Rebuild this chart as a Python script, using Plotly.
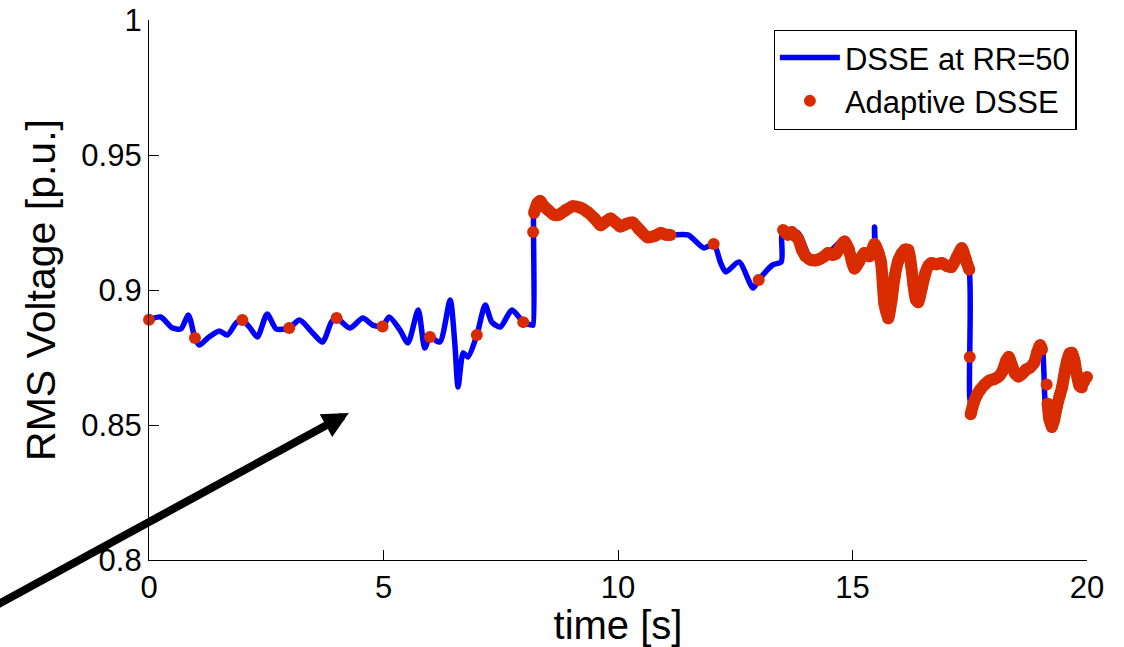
import plotly.graph_objects as go

# ---- data ----
t_blue = [0.00, 0.25, 0.49, 0.68, 0.84, 0.98, 1.07, 1.28, 1.50, 1.67, 1.86, 1.99, 2.14, 2.31, 2.52,
          2.71, 2.99, 3.21, 3.49, 3.70, 3.89, 4.00, 4.28, 4.56, 4.77, 4.98, 5.12, 5.35, 5.52, 5.74,
          5.88, 5.99, 6.20, 6.42, 6.52, 6.59, 6.70, 6.80, 6.99, 7.17, 7.31, 7.49, 7.74, 7.98, 8.17,
          8.19, 8.20, 8.21, 8.34, 8.51, 8.73, 9.03, 9.35, 9.63, 9.84, 10.05, 10.31, 10.63, 10.91,
          11.12, 11.49, 11.83, 12.04, 12.19, 12.30, 12.58, 12.88, 13.00, 13.30, 13.48, 13.49, 13.52,
          13.84, 14.12, 14.30, 14.48, 14.83, 15.04, 15.25, 15.44, 15.47, 15.50, 15.61, 15.72, 15.90,
          16.19, 16.40, 16.68, 17.11, 17.33, 17.49, 17.50, 17.55, 17.82, 18.12, 18.33, 18.54, 18.87,
          19.04, 19.08, 19.12, 19.25, 19.47, 19.68, 19.89, 20.00]
v_blue = [0.8890, 0.8900, 0.8860, 0.8856, 0.8907, 0.8822, 0.8796, 0.8826, 0.8848, 0.8833, 0.8878,
          0.8889, 0.8863, 0.8826, 0.8911, 0.8856, 0.8859, 0.8889, 0.8841, 0.8807, 0.8882, 0.8896,
          0.8859, 0.8896, 0.8870, 0.8865, 0.8900, 0.8852, 0.8804, 0.8926, 0.8785, 0.8826, 0.8807,
          0.8963, 0.8804, 0.8641, 0.8767, 0.8752, 0.8833, 0.8944, 0.8881, 0.8863, 0.8926, 0.8881,
          0.8870, 0.8870, 0.9215, 0.9285, 0.9320, 0.9296, 0.9278, 0.9315, 0.9289, 0.9233, 0.9270,
          0.9233, 0.9252, 0.9193, 0.9211, 0.9204, 0.9204, 0.9156, 0.9170, 0.9100, 0.9067, 0.9104,
          0.9007, 0.9037, 0.9093, 0.9104, 0.9193, 0.9222, 0.9211, 0.9111, 0.9120, 0.9137, 0.9185,
          0.9074, 0.9137, 0.9140, 0.9233, 0.9150, 0.9122, 0.8889, 0.9050, 0.9148, 0.8952, 0.9100,
          0.9085, 0.9159, 0.9067, 0.8600, 0.8560, 0.8656, 0.8678, 0.8752, 0.8678, 0.8715, 0.8789,
          0.8700, 0.8560, 0.8493, 0.8641, 0.8767, 0.8630, 0.8678]

# Adaptive DSSE: sparse estimates
t_red_sparse = [0.0, 0.98, 1.99, 2.99, 4.00, 4.98, 5.99, 6.99, 7.98, 8.19, 12.04, 13.00, 17.50, 19.14]
v_red_sparse = [0.8890, 0.8822, 0.8889, 0.8859, 0.8896, 0.8865, 0.8826, 0.8833, 0.8881, 0.9215,
                0.9170, 0.9037, 0.8752, 0.8650]

# Adaptive DSSE: dense sections
t_red_a = [8.21, 8.28, 8.34, 8.42, 8.51, 8.62, 8.73, 8.88, 9.03, 9.20, 9.35, 9.50, 9.63, 9.75, 9.84,
           9.95, 10.05, 10.18, 10.31, 10.45, 10.63, 10.78, 10.91, 11.02, 11.12]
v_red_a = [0.9285, 0.9320, 0.9330, 0.9310, 0.9296, 0.9280, 0.9278, 0.9295, 0.9310, 0.9305, 0.9289,
           0.9265, 0.9240, 0.9255, 0.9265, 0.9250, 0.9235, 0.9245, 0.9250, 0.9225, 0.9195, 0.9200,
           0.9211, 0.9205, 0.9204]
t_red_b = [13.52, 13.62, 13.70, 13.78, 13.84, 13.92, 14.00, 14.12, 14.22, 14.30, 14.40, 14.48, 14.58,
           14.65, 14.74, 14.83, 14.92, 15.04, 15.14, 15.25, 15.36, 15.47, 15.55, 15.61, 15.68, 15.76,
           15.83, 15.90, 15.98, 16.05, 16.12, 16.19, 16.25, 16.30, 16.35, 16.40, 16.48, 16.55, 16.62,
           16.68, 16.78, 16.90, 17.00, 17.11, 17.22, 17.33, 17.42, 17.49]
v_red_b = [0.9222, 0.9205, 0.9215, 0.9200, 0.9190, 0.9150, 0.9125, 0.9111, 0.9110, 0.9115, 0.9125,
           0.9137, 0.9130, 0.9135, 0.9160, 0.9180, 0.9150, 0.9080, 0.9105, 0.9137, 0.9125, 0.9170,
           0.9140, 0.9100, 0.8950, 0.8895, 0.8960, 0.9050, 0.9110, 0.9135, 0.9150, 0.9148, 0.9090,
           0.9020, 0.8965, 0.8955, 0.9010, 0.9060, 0.9090, 0.9100, 0.9095, 0.9100, 0.9090, 0.9085,
           0.9120, 0.9155, 0.9110, 0.9075]
t_red_c = [17.52, 17.58, 17.65, 17.72, 17.82, 17.92, 18.02, 18.12, 18.20, 18.27, 18.33, 18.40, 18.47,
           18.54, 18.62, 18.70, 18.78, 18.87, 18.94, 19.00, 19.04]
v_red_c = [0.8540, 0.8580, 0.8610, 0.8630, 0.8650, 0.8665, 0.8670, 0.8680, 0.8700, 0.8735, 0.8752,
           0.8720, 0.8690, 0.8680, 0.8690, 0.8705, 0.8712, 0.8730, 0.8770, 0.8795, 0.8780]
t_red_d = [19.16, 19.20, 19.25, 19.30, 19.36, 19.42, 19.47, 19.53, 19.58, 19.63, 19.68, 19.73, 19.78,
           19.84, 19.89, 19.94, 20.00]
v_red_d = [0.8580, 0.8520, 0.8493, 0.8520, 0.8570, 0.8610, 0.8641, 0.8700, 0.8740, 0.8765, 0.8767,
           0.8740, 0.8690, 0.8645, 0.8640, 0.8660, 0.8678]

x_ticks = [0, 5, 10, 15, 20]
y_ticks = [0.8, 0.85, 0.9, 0.95, 1.0]
y_ticktext = ["0.8", "0.85", "0.9", "0.95", "1"]

BLUE = "#0000FF"
RED = "#D92B00"
FONT = "Liberation Sans, Arial, Helvetica, sans-serif"

fig = go.Figure()
fig.add_trace(go.Scatter(x=t_blue, y=v_blue, mode="lines", name="DSSE at RR=50",
                         line=dict(color=BLUE, width=5.5, shape="spline", smoothing=0.7)))
for tx, vy in [(t_red_a, v_red_a), (t_red_b, v_red_b), (t_red_c, v_red_c), (t_red_d, v_red_d)]:
    fig.add_trace(go.Scatter(x=tx, y=vy, mode="lines+markers", showlegend=False, cliponaxis=False,
                             line=dict(color=RED, width=12, shape="spline", smoothing=0.7),
                             marker=dict(color=RED, size=12)))
fig.add_trace(go.Scatter(x=t_red_sparse, y=v_red_sparse, mode="markers", name="Adaptive DSSE",
                         cliponaxis=False, marker=dict(color=RED, size=12)))

fig.add_annotation(x=4.26, y=0.8544, ax=-3.28, ay=0.783, xref="x", yref="y", axref="x", ayref="y",
                   text="", showarrow=True, arrowhead=2, arrowsize=0.65, arrowwidth=8,
                   arrowcolor="black")

fig.update_layout(
    width=1124, height=647,
    margin=dict(l=149, r=37, t=20, b=87),
    paper_bgcolor="white", plot_bgcolor="white",
    font=dict(family=FONT, color="black"),
    legend=dict(x=0.989, y=0.982, xanchor="right", yanchor="top",
                bordercolor="black", borderwidth=1.2, bgcolor="white",
                font=dict(size=31, family=FONT), itemwidth=60, tracegroupgap=0),
)
fig.update_xaxes(range=[0, 20], tickvals=x_ticks, ticktext=[str(v) for v in x_ticks],
                 ticks="inside", ticklen=10, tickwidth=1.3, tickcolor="black",
                 showline=True, linecolor="black", linewidth=1.3, showgrid=False, zeroline=False,
                 tickfont=dict(size=31, family=FONT),
                 title=dict(text="time [s]", font=dict(size=40, family=FONT), standoff=4),
                 automargin=False)
fig.update_yaxes(range=[0.8, 1.0], tickvals=y_ticks, ticktext=y_ticktext,
                 ticks="inside", ticklen=10, tickwidth=1.3, tickcolor="black",
                 showline=True, linecolor="black", linewidth=1.3, showgrid=False, zeroline=False,
                 tickfont=dict(size=31, family=FONT),
                 title=dict(text="RMS Voltage [p.u.]", font=dict(size=41, family=FONT), standoff=12),
                 automargin=False)

fig.write_html("out.html")
